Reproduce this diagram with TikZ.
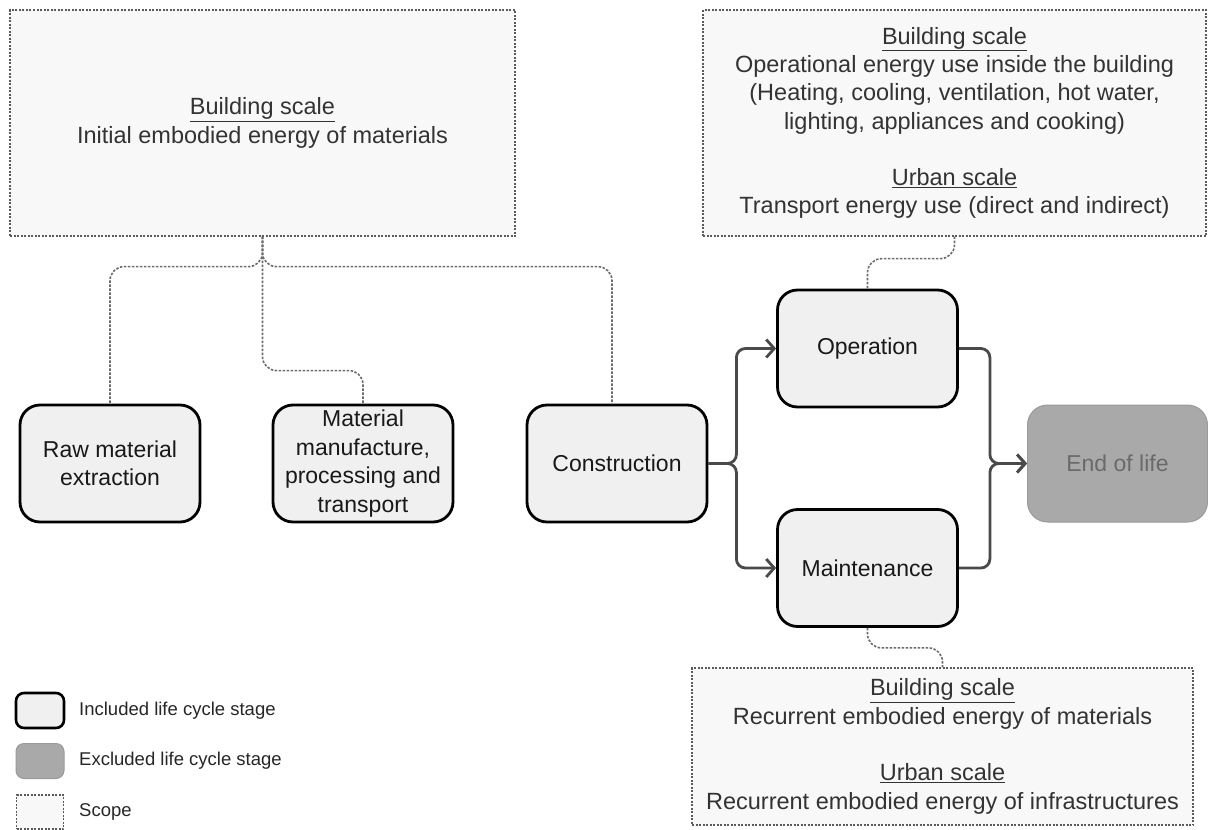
\documentclass[tikz,border=0pt]{standalone}
\usepackage{fontspec}
\setmainfont{Liberation Sans}
\usetikzlibrary{arrows.meta}
\definecolor{stagefill}{HTML}{F0F0F0}
\definecolor{exclfill}{HTML}{A9A9A9}
\definecolor{exclline}{HTML}{9A9A9A}
\definecolor{excltext}{HTML}{6A6A6A}
\definecolor{scopefill}{HTML}{F8F8F8}
\definecolor{scopeline}{HTML}{5A5A5A}
\definecolor{flowline}{HTML}{4A4A4A}
\begin{document}
\begin{tikzpicture}[x=1pt,y=-1pt,
  stage/.style={draw=black,line width=2.8pt,fill=stagefill,rounded corners=20pt,
    minimum width=180pt,minimum height=117pt,align=center,text=black!90,
    font=\fontsize{23}{28.5}\selectfont},
  excluded/.style={stage,draw=exclline,line width=1pt,fill=exclfill,text=excltext},
  scope/.style={draw=scopeline,line width=1.3pt,dash pattern=on 2pt off 1.5pt,
    fill=scopefill,align=center,text=black!80,font=\fontsize{23.5}{28.3}\selectfont},
  scopelink/.style={draw=scopeline!90,line width=1.6pt,dash pattern=on 2.5pt off 1.5pt,
    rounded corners=14pt},
  flow/.style={draw=flowline,line width=2.8pt,rounded corners=9pt,
    -{Straight Barb[length=8pt,width=18pt]}},
  legendtxt/.style={anchor=west,inner sep=0pt,text=black!85,font=\fontsize{18.5}{22}\selectfont}]
  \useasboundingbox (0,0) rectangle (1208,830);

  \node[scope,minimum width=505pt,minimum height=226pt] (emb) at (262.5,123)
    {\underline{Building scale}\\Initial embodied energy of materials};
  \node[scope,minimum width=503pt,minimum height=226pt] (use) at (954.5,123)
    {\underline{Building scale}\\Operational energy use inside the building\\
     (Heating, cooling, ventilation, hot water,\\lighting, appliances and cooking)\\[28.3pt]
     \underline{Urban scale}\\Transport energy use (direct and indirect)};
  \node[scope,minimum width=501pt,minimum height=157pt] (rec) at (942.5,746.5)
    {\underline{Building scale}\\Recurrent embodied energy of materials\\[28.3pt]
     \underline{Urban scale}\\Recurrent embodied energy of infrastructures};

  \node[stage] (raw) at (110,463.5) {Raw material\\extraction};
  \node[stage] (mat) at (363,463.5) {Material\\manufacture,\\processing and\\transport};
  \node[stage] (con) at (617,463.5) {Construction};
  \node[stage] (op) at (867.5,348.5) {Operation};
  \node[stage] (mnt) at (867.5,568) {Maintenance};
  \node[excluded] (eol) at (1117.5,463.5) {End of life};

  \draw[scopelink] (emb.south) -- ++(0,30) -| (raw.north);
  \draw[scopelink] (emb.south) |- ([yshift=33pt]mat.north) -- (mat.north);
  \draw[scopelink] (emb.south) -- ++(0,30) -| ([xshift=-5pt]con.north);
  \draw[scopelink] (use.south) -- ++(0,22) -| (op.north);
  \draw[scopelink] (mnt.south) -- ++(0,20) -| (rec.north);

  \draw[flow] (con.east) -- ++(28,0) |- (op.west);
  \draw[flow] (con.east) -- ++(28,0) |- (mnt.west);
  \draw[flow] (op.east) -- ++(31,0) |- (eol.west);
  \draw[flow] (mnt.east) -- ++(31,0) |- (eol.west);

  \node[stage,minimum width=48pt,minimum height=35pt,rounded corners=8pt,line width=2.6pt] (inc) at (40,710.5) {};
  \node[excluded,minimum width=48pt,minimum height=35pt,rounded corners=8pt] (exc) at (40,761) {};
  \node[scope,minimum width=47pt,minimum height=34pt] (scp) at (40,812) {};
  \node[legendtxt] (inctxt) at (79,710.5) {Included life cycle stage};
  \node[legendtxt] (exctxt) at (79,761) {Excluded life cycle stage};
  \node[legendtxt] (scptxt) at (79,812) {Scope};
\end{tikzpicture}
\end{document}
